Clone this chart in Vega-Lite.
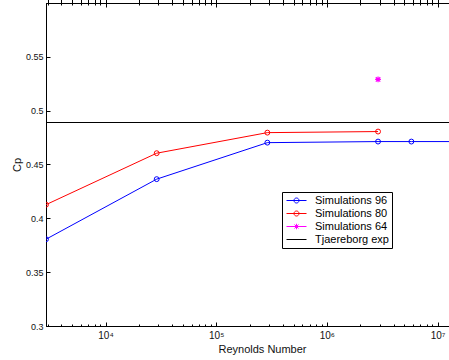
{
  "$schema": "https://vega.github.io/schema/vega-lite/v6.json",
  "width": 432,
  "height": 323,
  "autosize": {"type": "none"},
  "padding": {"left": 46, "top": 3, "right": 0, "bottom": 34},
  "background": "white",
  "config": {
    "font": "Liberation Sans",
    "view": {"stroke": "black", "strokeWidth": 1},
    "axis": {
      "grid": false,
      "domainColor": "black",
      "domainWidth": 1,
      "tickColor": "black",
      "labelColor": "#111",
      "titleColor": "#111",
      "labelFont": "Liberation Sans",
      "titleFont": "Liberation Sans",
      "labelFontSize": 9,
      "titleFontSize": 11,
      "titleFontWeight": "normal"
    },
    "legend": {
      "title": null,
      "orient": "none",
      "legendX": 236,
      "legendY": 189,
      "strokeColor": "black",
      "fillColor": "white",
      "padding": 3,
      "symbolSize": 100,
      "symbolStrokeWidth": 1,
      "symbolOpacity": 1,
      "symbolOffset": 6,
      "labelOffset": 13,
      "labelFontSize": 11,
      "labelColor": "black",
      "labelFont": "Liberation Sans",
      "rowPadding": 1
    }
  },
  "data": {
    "values": [
      {"series": "Simulations 96", "Re": 2900, "Cp": 0.3806},
      {"series": "Simulations 96", "Re": 29000, "Cp": 0.4364},
      {"series": "Simulations 96", "Re": 290000, "Cp": 0.4703},
      {"series": "Simulations 96", "Re": 2900000, "Cp": 0.4713},
      {"series": "Simulations 96", "Re": 5800000, "Cp": 0.4713},
      {"series": "Simulations 96", "Re": 23200000, "Cp": 0.4713},
      {"series": "Simulations 80", "Re": 2900, "Cp": 0.4127},
      {"series": "Simulations 80", "Re": 29000, "Cp": 0.4605},
      {"series": "Simulations 80", "Re": 290000, "Cp": 0.4796},
      {"series": "Simulations 80", "Re": 2900000, "Cp": 0.4806},
      {"series": "Simulations 64", "Re": 2900000, "Cp": 0.529},
      {"series": "Tjaereborg exp", "Re": 2900, "Cp": 0.489},
      {"series": "Tjaereborg exp", "Re": 23200000, "Cp": 0.489}
    ]
  },
  "layer": [
    {
      "mark": {"type": "point", "filled": false, "opacity": 0, "clip": true},
      "encoding": {
        "x": {
          "field": "Re", "type": "quantitative",
          "scale": {"type": "log", "domain": [2900, 23200000], "nice": false},
          "axis": {
            "orient": "bottom",
            "title": "Reynolds Number",
            "titlePadding": 3,
            "values": [3000,4000,5000,6000,7000,8000,9000,10000,20000,30000,40000,50000,60000,70000,80000,90000,100000,200000,300000,400000,500000,600000,700000,800000,900000,1000000,2000000,3000000,4000000,5000000,6000000,7000000,8000000,9000000,10000000,20000000],
            "labelExpr": "datum.value == 10000 ? '10⁴' : datum.value == 100000 ? '10⁵' : datum.value == 1000000 ? '10⁶' : datum.value == 10000000 ? '10⁷' : ''",
            "tickSize": {"condition": {"test": "datum.value == 10000 || datum.value == 100000 || datum.value == 1000000 || datum.value == 10000000", "value": -4}, "value": -2},
            "labelPadding": 8,
            "labelFontSize": 10
          }
        },
        "y": {
          "field": "Cp", "type": "quantitative",
          "scale": {"domain": [0.3, 0.6], "nice": false, "zero": false},
          "axis": {
            "title": "Cp",
            "values": [0.3, 0.35, 0.4, 0.45, 0.5, 0.55],
            "format": ".2~f",
            "tickSize": -4,
            "labelPadding": 7,
            "titlePadding": 3
          }
        },
        "color": {
          "field": "series", "type": "nominal",
          "scale": {"domain": ["Simulations 96", "Simulations 80", "Simulations 64", "Tjaereborg exp"], "range": ["#0000ff", "#ff0000", "#ff00ff", "#000000"]},
          "legend": {"labelExpr": "datum.label + '\u00a0\u00a0'"}
        },
        "shape": {
          "field": "series", "type": "nominal",
          "scale": {
            "domain": ["Simulations 96", "Simulations 80", "Simulations 64", "Tjaereborg exp"],
            "range": [
              "M-2,0H2M-0.5,0A0.5,0.5,0,1,1,0.5,0A0.5,0.5,0,1,1,-0.5,0",
              "M-2,0H2M-0.5,0A0.5,0.5,0,1,1,0.5,0A0.5,0.5,0,1,1,-0.5,0",
              "M-2,0H2M-0.4,-0.4L0.4,0.4M-0.4,0.4L0.4,-0.4M0,-0.55V0.55",
              "M-2,0H2"
            ]
          },
          "legend": {"labelExpr": "datum.label + '\u00a0\u00a0'"}
        }
      }
    },
    {
      "transform": [{"filter": "datum.series != 'Simulations 64'"}],
      "mark": {"type": "line", "strokeWidth": 1, "clip": true},
      "encoding": {
        "x": {"field": "Re", "type": "quantitative"},
        "y": {"field": "Cp", "type": "quantitative"},
        "color": {"field": "series", "type": "nominal"}
      }
    },
    {
      "transform": [{"filter": "datum.series == 'Simulations 96' || datum.series == 'Simulations 80'"}],
      "mark": {"type": "point", "shape": "circle", "filled": false, "size": 24, "strokeWidth": 1, "clip": true, "opacity": 1},
      "encoding": {
        "x": {
          "field": "Re", "type": "quantitative",
          "axis": {
            "orient": "top", "title": null, "labels": false, "domain": false,
            "values": [3000,4000,5000,6000,7000,8000,9000,10000,20000,30000,40000,50000,60000,70000,80000,90000,100000,200000,300000,400000,500000,600000,700000,800000,900000,1000000,2000000,3000000,4000000,5000000,6000000,7000000,8000000,9000000,10000000,20000000],
            "tickSize": {"condition": {"test": "datum.value == 10000 || datum.value == 100000 || datum.value == 1000000 || datum.value == 10000000", "value": -4}, "value": -2}
          }
        },
        "y": {"field": "Cp", "type": "quantitative"},
        "color": {"field": "series", "type": "nominal"}
      }
    },
    {
      "transform": [{"filter": "datum.series == 'Simulations 64'"}],
      "mark": {"type": "point", "shape": "M-1,-1L1,1M-1,1L1,-1M0,-1.3V1.3M-1.3,0H1.3", "filled": false, "size": 20, "strokeWidth": 1.2, "clip": true, "opacity": 1},
      "encoding": {
        "x": {"field": "Re", "type": "quantitative"},
        "y": {"field": "Cp", "type": "quantitative"},
        "color": {"field": "series", "type": "nominal"}
      }
    }
  ]
}
